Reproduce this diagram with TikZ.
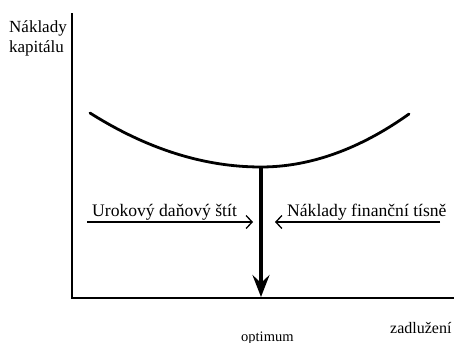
\documentclass[tikz,border=0pt]{standalone}
\usepackage{fontspec}
\setmainfont{Liberation Serif}
\usetikzlibrary{arrows.meta}
\begin{document}
\begin{tikzpicture}[x=1pt,y=-1pt,
  lbl/.style={inner sep=0pt,anchor=base west,font=\fontsize{17.6}{20}\selectfont},
  axisline/.style={line width=1.8pt},
  curveline/.style={line width=2.8pt},
  optarrow/.style={line width=4pt,-{Stealth[length=22pt,width=17pt,inset=8pt]}},
  sidearrow/.style={line width=1.3pt,-{Straight Barb[length=6pt,width=13pt,line width=1.3pt]}}]
\useasboundingbox (0,0) rectangle (459,343);
% axes
\coordinate (top) at (72,13);
\coordinate (origin) at (72,298);
\coordinate (xend) at (454,298);
\draw[axisline] (top) -- (origin) -- (xend);
% curve
\coordinate (cL) at (90,113);
\coordinate (vtx) at (261,167);
\coordinate (cR) at (409,114);
\draw[curveline,line cap=round] (cL) .. controls (147,149) and (204,167) .. (vtx)
  .. controls (310,167) and (360,149) .. (cR);
% optimum arrow
\coordinate (tip) at (261,297);
\draw[optarrow] (vtx) -- (tip);
% side arrows
\coordinate (la) at (87,222);
\coordinate (lb) at (253,222);
\coordinate (ra) at (440,222);
\coordinate (rb) at (275,222);
\draw[sidearrow] (la) -- (lb);
\draw[sidearrow] (ra) -- (rb);
% labels
\node[lbl,font=\fontsize{17}{20}\selectfont] (ylab1) at (9,32) {Náklady};
\node[lbl,font=\fontsize{17}{20}\selectfont] (ylab2) at (9,52) {kapitálu};
\node[lbl] (tax) at (92,216) {Urokový daňový štít};
\node[lbl] (dist) at (287,216) {Náklady finanční tísně};
\node[lbl,font=\fontsize{14.5}{17}\selectfont] (opt) at (241,341) {optimum};
\node[lbl,font=\fontsize{16}{19}\selectfont] (debt) at (390,333) {zadlužení};
\end{tikzpicture}
\end{document}
